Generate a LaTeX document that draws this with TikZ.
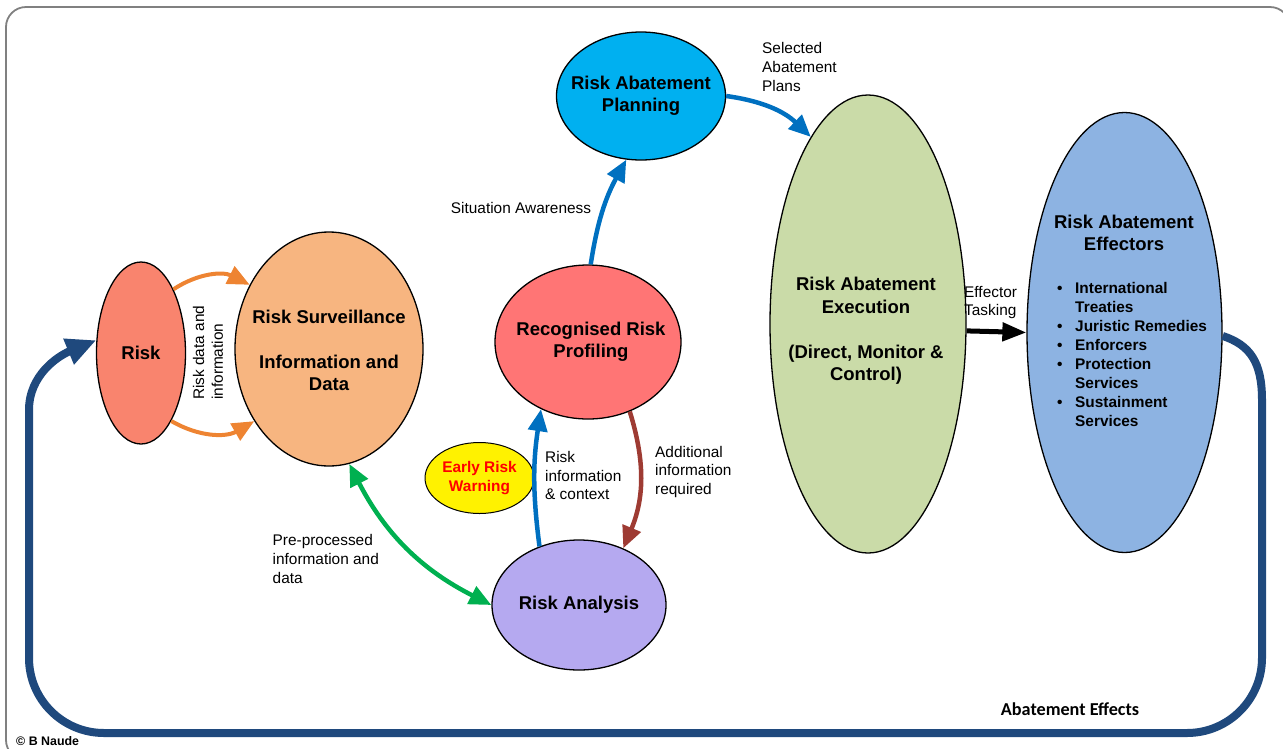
\documentclass[tikz,border=0pt]{standalone}
\usepackage{fontspec}
\setmainfont{Liberation Sans}
\newfontfamily\calfont{Carlito}
\usetikzlibrary{shapes.geometric,arrows.meta}
\definecolor{cRisk}{RGB}{249,132,110}
\definecolor{cSurv}{RGB}{247,181,128}
\definecolor{cProf}{RGB}{255,117,117}
\definecolor{cPlan}{RGB}{0,176,240}
\definecolor{cExec}{RGB}{202,219,168}
\definecolor{cEff}{RGB}{141,179,226}
\definecolor{cAna}{RGB}{181,169,240}
\definecolor{cOrange}{RGB}{238,132,50}
\definecolor{cBlue}{RGB}{0,112,192}
\definecolor{cBrown}{RGB}{158,59,51}
\definecolor{cGreen}{RGB}{0,176,80}
\definecolor{cNavy}{RGB}{31,73,125}
\newcommand\lblbig{\fontsize{18.5}{22.4}\selectfont\bfseries}
\newcommand\lblmid{\fontsize{15.4}{19}\selectfont\bfseries}
\newcommand\lblsmall{\fontsize{15.4}{18.8}\selectfont}
\begin{document}
\begin{tikzpicture}[x=1pt,y=1pt,
  el/.style={ellipse, draw=black, line width=1.3pt, inner sep=0pt},
  bigtxt/.style={inner sep=0pt, align=center, font=\lblbig},
  smalltxt/.style={inner sep=0pt, align=left, font=\lblsmall},
  oarrow/.style={draw=cOrange, line width=4pt, -{Triangle[length=22pt,width=19pt]}},
  barrow/.style={draw=cBlue, line width=4.5pt, -{Triangle[length=22pt,width=19pt]}},
  rarrow/.style={draw=cBrown, line width=4.5pt, -{Triangle[length=22pt,width=19pt]}},
  garrow/.style={draw=cGreen, line width=4.5pt, {Triangle[length=22pt,width=19pt]}-{Triangle[length=22pt,width=19pt]}},
  karrow/.style={draw=black, line width=5pt, -{Triangle[length=24pt,width=18pt]}},
  looparrow/.style={draw=cNavy, line width=8pt, -{Triangle[length=30pt,width=26pt]}},
]
\useasboundingbox (0,0) rectangle (1283,-748);
% frame
\draw[draw=gray, line width=1.8pt, rounded corners=20pt] (6,-7) rectangle (1290,-760);

% ellipses
\node[el, fill=cRisk, minimum width=89pt, minimum height=182pt,
  label={[bigtxt]center:Risk}] (risk) at (141,-353) {};
\node[el, fill=cSurv, minimum width=188pt, minimum height=234pt,
  label={[bigtxt, yshift=-1.5pt]center:{Risk Surveillance\\[22.4pt]Information and\\Data}}] (surv) at (329,-349) {};
\node[el, fill=cProf, minimum width=186pt, minimum height=154pt,
  label={[bigtxt, xshift=3pt]center:{Recognised Risk\\Profiling}}] (prof) at (588,-342) {};
\node[el, fill=cPlan, minimum width=169pt, minimum height=128pt,
  label={[bigtxt]center:{Risk Abatement\\Planning}}] (plan) at (641,-96) {};
\node[el, fill=cExec, minimum width=196pt, minimum height=458pt] (exec) at (868,-324) {};
\node[bigtxt] (exectext) at (866,-331) {Risk Abatement\\Execution\\[22.4pt](Direct, Monitor \&\\Control)};
\node[el, fill=cEff, minimum width=195pt, minimum height=440pt] (eff) at (1124.5,-332.5) {};
\node[bigtxt] (efftitle) at (1124,-233) {Risk Abatement\\Effectors};
\node[anchor=north west, inner sep=0pt, font=\lblmid] (efflist) at (1057,-280) {%
\begin{tabular}{@{}l@{\hspace{12.6pt}}l@{}}
\textbullet & International\\
 & Treaties\\
\textbullet & Juristic Remedies\\
\textbullet & Enforcers\\
\textbullet & Protection\\
 & Services\\
\textbullet & Sustainment\\
 & Services
\end{tabular}};
\node[el, fill=cAna, minimum width=174pt, minimum height=130pt,
  label={[bigtxt]center:Risk Analysis}] (ana) at (579,-605) {};
\node[el, fill=yellow, line width=1pt, minimum width=109pt, minimum height=71pt,
  label={[inner sep=0pt, align=center, font=\lblmid, text=red]center:{Early Risk\\Warning}}] (warn) at (479.5,-478) {};

% labels
\node[smalltxt, rotate=90, anchor=west] (lrisk) at (208,-400) {Risk data and\\information};
\node[smalltxt, anchor=center] (lsit) at (521,-208) {Situation Awareness};
\node[smalltxt, anchor=west] (lsel) at (762,-67) {Selected\\Abatement\\Plans};
\node[smalltxt, anchor=west] (ltask) at (964,-302.5) {Effector\\Tasking};
\node[smalltxt, anchor=west] (lctx) at (545,-475.5) {Risk\\information\\\& context};
\node[smalltxt, anchor=west] (ladd) at (655,-472) {Additional\\information\\required};
\node[smalltxt, anchor=west] (lpre) at (272.5,-559) {Pre-processed\\information and\\data};
\node[inner sep=0pt, font=\calfont\fontsize{18.2}{22}\selectfont\bfseries] (leff) at (1070,-709) {Abatement Effects};
\node[inner sep=0pt, anchor=west, font=\fontsize{12.4}{15}\selectfont\bfseries] (lcopy) at (16,-741) {© B Naude};

% connectors
\draw[oarrow] (risk.63.4) to[bend left=30] (surv.141.9);
\draw[oarrow] (risk.-66.8) to[bend right=30] (surv.224.2);
\draw[barrow] (prof.88) to[bend left=10] (plan.-103);
\draw[barrow] (plan.0) to[bend left=18] (exec.107.4);
\draw[barrow] (ana.124.4) to[bend left=8] (prof.-125);
\draw[rarrow] (prof.-59) to[bend left=20] (ana.52.3);
\draw[garrow] (surv.-80.4) to[bend right=18] (ana.180);
\draw[karrow] (exec.-4) -- (eff.180);
\draw[looparrow] (eff.-2) .. controls (1250,-345) and (1262,-362) .. (1262,-400)
  -- (1262,-658) arc[start angle=0, end angle=-90, radius=75pt]
  -- (104,-733) arc[start angle=270, end angle=180, radius=75pt]
  -- (29,-410) .. controls (29,-375) and (58,-356) .. (risk.164.7);
\end{tikzpicture}
\end{document}
